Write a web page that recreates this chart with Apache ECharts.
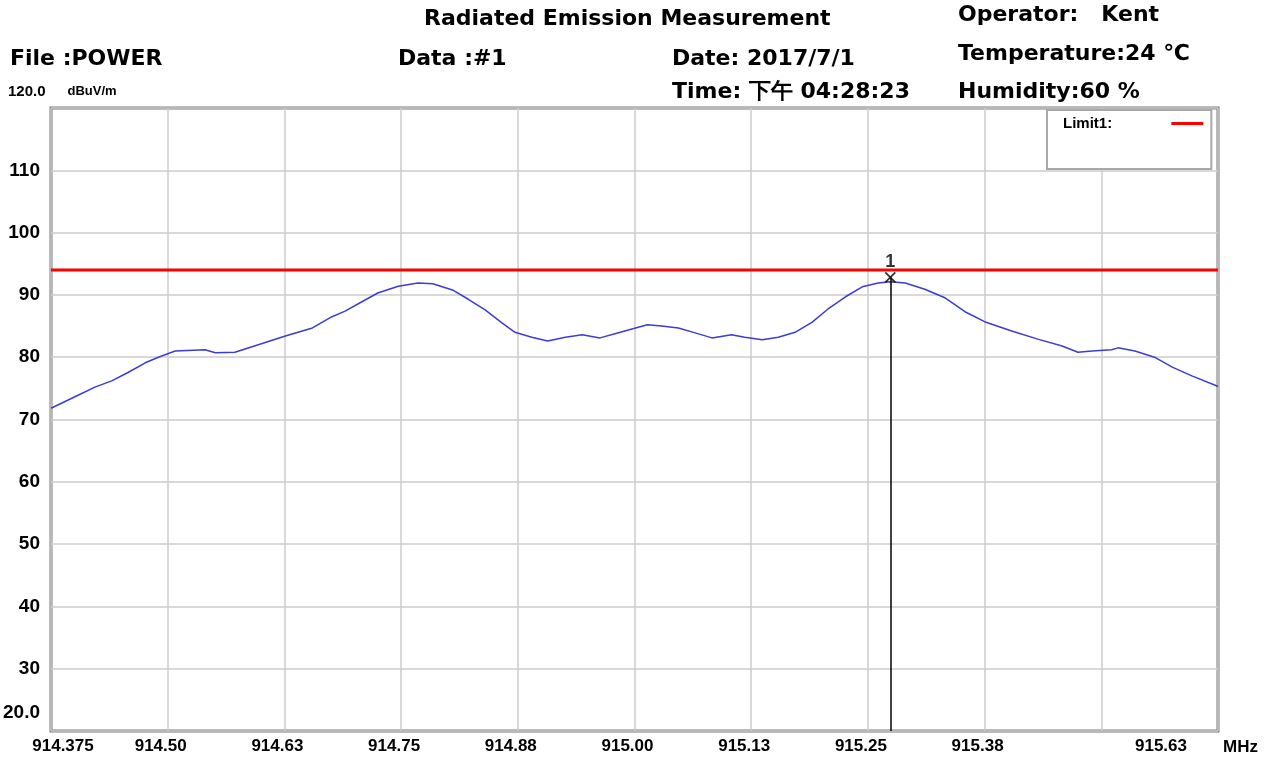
<!DOCTYPE html>
<html>
<head>
<meta charset="utf-8">
<script src="https://cdn.jsdelivr.net/npm/echarts@6/dist/echarts.min.js"></script>
<style>
html,body{margin:0;padding:0;background:#fff}
#main{width:1267px;height:758px}
</style>
</head>
<body>
<div id="main"></div>
<script>
// trace (MHz / dBuV/m)
var freq = [914.375, 914.404, 914.422, 914.440, 914.457, 914.476, 914.490, 914.508, 914.540, 914.551,
    914.572, 914.597, 914.626, 914.655, 914.676, 914.690, 914.708, 914.725, 914.747, 914.768,
    914.784, 914.805, 914.822, 914.840, 914.858, 914.872, 914.890, 914.907, 914.926, 914.944,
    914.963, 914.982, 915.004, 915.014, 915.029, 915.047, 915.065, 915.083, 915.104, 915.118,
    915.137, 915.154, 915.172, 915.190, 915.207, 915.226, 915.244, 915.261, 915.274, 915.290,
    915.311, 915.333, 915.354, 915.375, 915.404, 915.432, 915.458, 915.475, 915.490, 915.511,
    915.518, 915.536, 915.557, 915.576, 915.597, 915.622, 915.625];
var level = [71.8, 73.9, 75.2, 76.2, 77.5, 79.1, 80.0, 81.0, 81.2, 80.7,
    80.8, 82.0, 83.4, 84.7, 86.5, 87.4, 88.9, 90.3, 91.4, 91.9,
    91.8, 90.8, 89.3, 87.6, 85.5, 84.0, 83.2, 82.6, 83.2, 83.6,
    83.1, 83.9, 84.8, 85.2, 85.0, 84.7, 83.9, 83.1, 83.6, 83.2,
    82.8, 83.2, 84.0, 85.6, 87.7, 89.7, 91.3, 91.9, 92.1, 91.9,
    90.9, 89.5, 87.3, 85.7, 84.2, 82.9, 81.8, 80.8, 81.0, 81.2,
    81.5, 81.0, 80.0, 78.4, 77.0, 75.5, 75.3];
var limitFreq = [914.375, 915.625];
var limitLevel = [94, 94];
var markerFreq = [915.274];
var markerLevel = [92.8];
var markerName = ['1'];
var xTickLabels = ['914.375', '914.50', '914.63', '914.75', '914.88', '915.00', '915.13', '915.25', '915.38', '', '915.63'];
var yTickLabels = ['20.0', '30', '40', '50', '60', '70', '80', '90', '100', '110', ''];

var xMin = 914.375, xMax = 915.625, xStep = 0.125;
var yMin = 20, yMax = 120, yStep = 10;

var hdr = 'DejaVu Sans';
var axFont = 'Liberation Sans';

var myChart = echarts.init(document.getElementById('main'));

function headText(text, left, top) {
    return {
        text: text,
        left: left,
        top: top,
        padding: 0,
        textStyle: { fontFamily: hdr, fontWeight: 'bold', fontSize: 22, color: '#000' }
    };
}

var trace = freq.map(function (f, i) { return [f, level[i]]; });
var limit = limitFreq.map(function (f, i) { return [f, limitLevel[i]]; });
var marker = markerFreq.map(function (f, i) { return [f, markerLevel[i]]; });

// legend text is padded so the red sample sits at the right of the box
var nb = '\u00a0';
var legendText = 'Limit1:' + nb.repeat(13);

var option = {
    backgroundColor: '#fff',
    animation: false,
    title: [
        headText('Radiated Emission Measurement', 424, 8),
        headText('Operator:   Kent', 958, 4),
        headText('File :POWER', 10, 48),
        headText('Data :#1', 398, 48),
        headText('Date: 2017/7/1', 672, 48),
        headText('Temperature:24 ℃', 958, 43),
        headText('Time: 下午 04:28:23', 672, 81),
        headText('Humidity:60 %', 958, 81)
    ],
    legend: {
        data: ['Limit1'],
        left: 1047,
        top: 110,
        orient: 'vertical',
        align: 'right',
        icon: 'rect',
        itemWidth: 32,
        itemHeight: 3,
        formatter: function () { return legendText; },
        textStyle: { fontFamily: axFont, fontWeight: 'bold', fontSize: 15, color: '#000' },
        backgroundColor: '#fff',
        borderColor: '#a8a8a8',
        borderWidth: 2,
        padding: [6, 8, 38, 16]
    },
    grid: {
        left: 51,
        right: 49,
        top: 108,
        bottom: 27,
        show: true,
        borderColor: '#7a7a7a',
        borderWidth: 3,
        backgroundColor: '#fff'
    },
    xAxis: {
        type: 'value',
        min: xMin,
        max: xMax,
        interval: xStep,
        name: '{m|MHz}',
        nameLocation: 'end',
        nameGap: 5,
        nameTextStyle: {
            rich: {
                m: { fontFamily: axFont, fontWeight: 'bold', fontSize: 17, color: '#000', padding: [32, 0, 0, 0] }
            }
        },
        axisLine: { show: false },
        axisTick: { show: false },
        splitLine: { show: true, lineStyle: { color: '#cdcdcd', width: 1.5 } },
        axisLabel: {
            margin: 7,
            color: '#000',
            fontFamily: axFont,
            fontWeight: 'bold',
            fontSize: 17,
            formatter: function (v) {
                var i = Math.round((v - xMin) / xStep);
                var t = xTickLabels[i];
                if (!t) return '';
                if (i === 0) return '{f|' + t + '}';
                if (i === xTickLabels.length - 1) return '{l|' + t + '}';
                return '{n|' + t + '}';
            },
            rich: {
                n: { padding: [0, 14, 0, 0] },
                f: { padding: [0, 0, 0, 24] },
                l: { padding: [0, 114, 0, 0] }
            }
        }
    },
    yAxis: {
        type: 'value',
        min: yMin,
        max: yMax,
        interval: yStep,
        name: '{a|120.0}{b|dBuV/m}',
        nameLocation: 'end',
        nameGap: 9,
        nameTextStyle: {
            align: 'left',
            verticalAlign: 'bottom',
            padding: [0, 0, 0, -43],
            rich: {
                a: { fontFamily: axFont, fontWeight: 'bold', fontSize: 15, color: '#000', padding: [0, 22, 0, 0] },
                b: { fontFamily: axFont, fontWeight: 'bold', fontSize: 13, color: '#000' }
            }
        },
        axisLine: { show: false },
        axisTick: { show: false },
        splitLine: { show: true, lineStyle: { color: '#cdcdcd', width: 1.5 } },
        axisLabel: {
            margin: 11,
            color: '#000',
            fontFamily: axFont,
            fontWeight: 'bold',
            fontSize: 19,
            formatter: function (v) {
                var i = Math.round((v - yMin) / yStep);
                var t = yTickLabels[i];
                if (!t) return '';
                if (i === 0) return '{b|' + t + '}';
                return t;
            },
            rich: {
                b: { fontFamily: axFont, fontWeight: 'bold', fontSize: 19, color: '#000', padding: [0, 0, 36, 0] }
            }
        }
    },
    series: [
        {
            name: 'Limit1',
            type: 'line',
            data: limit,
            symbol: 'none',
            lineStyle: { color: '#ff0000', width: 3 },
            itemStyle: { color: '#ff0000' },
            z: 3
        },
        {
            name: 'trace',
            type: 'line',
            data: trace,
            symbol: 'none',
            lineStyle: { color: '#3c3cd6', width: 1.5 },
            z: 2,
            markLine: {
                silent: true,
                symbol: 'none',
                label: { show: false },
                lineStyle: { color: '#000', width: 1.5, type: 'solid' },
                data: [[{ coord: [markerFreq[0], yMin] }, { coord: [markerFreq[0], markerLevel[0]] }]]
            }
        },
        {
            name: 'marker',
            type: 'scatter',
            data: marker,
            symbol: 'path://M0,0L10,10M10,0L0,10',
            symbolSize: 10,
            itemStyle: { color: 'rgba(0,0,0,0)', borderColor: '#000', borderWidth: 1.8 },
            label: {
                show: true,
                position: 'top',
                distance: 1,
                formatter: function (p) { return markerName[p.dataIndex]; },
                fontFamily: axFont,
                fontWeight: 'bold',
                fontSize: 18,
                color: '#000'
            },
            z: 4
        }
    ]
};
myChart.setOption(option);
</script>
</body>
</html>
